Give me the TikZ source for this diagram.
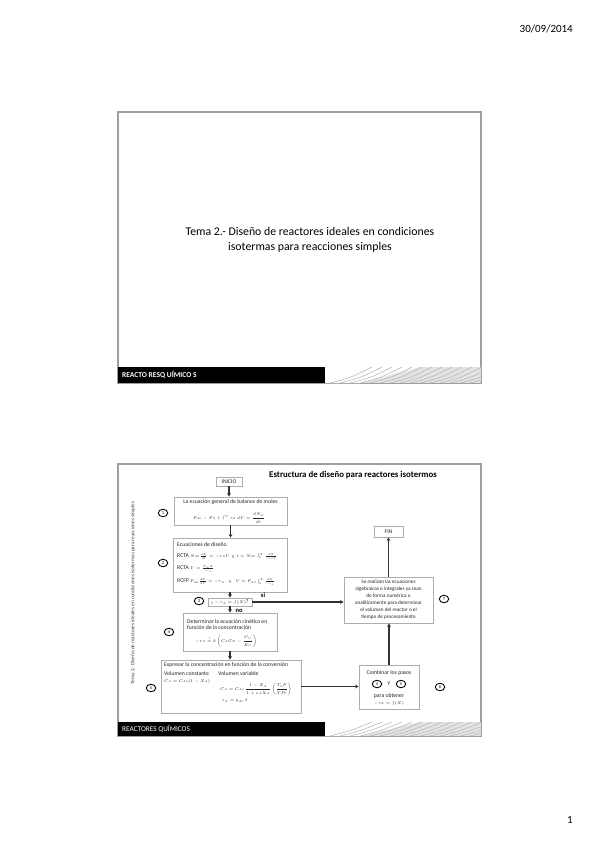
\RequirePackage{fix-cm}
\documentclass[tikz,border=0pt]{standalone}
\usepackage{fontspec}
\setmainfont{Carlito}
\usepackage{amsmath}
\usetikzlibrary{shapes.geometric,arrows.meta}
\newcommand{\mth}[1]{{\fontsize{4}{5}\selectfont$#1$}}
\tikzset{
  slideframe/.style={draw=gray!75, line width=1.3pt},
  fbox/.style={draw=gray!65, line width=0.8pt, fill=white, inner sep=1pt},
  txt/.style={font=\fontsize{5.7}{6}\selectfont, text=black!85, inner sep=0pt},
  arr/.style={draw=black!80, line width=1.1pt, -{Stealth[length=3.5pt,width=3.8pt]}},
  num/.style={ellipse, draw=black, line width=0.9pt, minimum width=9.5pt, minimum height=7.5pt, inner sep=0pt, font=\fontsize{4.5}{4.5}\selectfont},
  lbl/.style={font=\fontsize{6.5}{6.5}\selectfont\bfseries, inner sep=0pt},
}
\begin{document}
\begin{tikzpicture}[x=1pt,y=-1pt]
\useasboundingbox (0,0) rectangle (599,848);
% header / footer
\node[font=\fontsize{11}{13}\selectfont, anchor=east, inner sep=0pt] (date) at (573,29) {30/09/2014};
\node[font=\fontsize{11}{13}\selectfont, inner sep=0pt] (pg) at (570,820) {1};

% ---------- slide 1 ----------
\draw[slideframe] (118,112) rectangle (481,383);
\fill[black] (118,367) rectangle (325,383);
\begin{scope}
  \clip (325,367) rectangle (481,383);
  \fill[gray!22] (325,367) rectangle (481,383);
  \fill[white] (325,383) -- (360,383) -- (420,367) -- (325,367) -- cycle;
  \foreach \i in {0,...,16} \draw[gray!60, line width=0.5pt] ({330+\i*10},383) .. controls ({350+\i*10},378) .. ({372+\i*10},367);
\end{scope}
\node[font=\fontsize{7.5}{8}\selectfont\bfseries, text=white, anchor=west, inner sep=0pt] (band1) at (122,375) {REACTO RESQ UÍMICO S};
\node[font=\fontsize{11.8}{15}\selectfont, align=center, inner sep=0pt] (t1) at (310,239.5) {Tema 2.- Diseño de reactores ideales en condiciones\\isotermas para reacciones simples};

% ---------- slide 2 ----------
\draw[slideframe] (118,464) rectangle (481,736);
\fill[black] (118,722) rectangle (325,736);
\begin{scope}
  \clip (325,722) rectangle (481,736);
  \fill[gray!22] (325,722) rectangle (481,736);
  \fill[white] (325,736) -- (360,736) -- (420,722) -- (325,722) -- cycle;
  \foreach \i in {0,...,16} \draw[gray!60, line width=0.5pt] ({330+\i*10},736) .. controls ({350+\i*10},731) .. ({372+\i*10},722);
\end{scope}
\node[font=\fontsize{7.3}{8}\selectfont, text=white, anchor=west, inner sep=0pt] (band2) at (122,729) {REACTORES QUÍMICOS};

\node[font=\fontsize{8.8}{9}\selectfont\bfseries, inner sep=0pt] (title) at (353,475) {Estructura de diseño para reactores isotermos};
\node[font=\fontsize{5.2}{6}\selectfont, text=black!75, rotate=90, inner sep=0pt] (side) at (133,593) {Tema 2.- Diseño de reactores ideales en condiciones isotermas para reacciones simples};

% INICIO
\node[fbox, txt, minimum width=26pt, minimum height=9pt, inner sep=0pt] (inicio) at (229,481.5) {INICIO};
% box 1
\node[fbox, minimum width=113pt, minimum height=28pt] (b1) at (230.5,511) {};
\node[txt] (b1t) at (230.5,502) {La ecuación general de balance de moles};
\node[txt] (b1e) at (229,518) {\mth{F_{A0}-F_A+\int^{V} r_A\,dV=\dfrac{dN_A}{dt}}};
% box 2
\node[fbox, minimum width=114pt, minimum height=54pt] (b2) at (230,565) {};
\node[txt, anchor=west] (b2t) at (177,545) {Ecuaciones de diseño};
\node[txt, anchor=west] (b2a) at (177,556.5) {RCTA \mth{N_{A0}\frac{dX}{dt}=-r_AV\ \ y\ \ t=N_{A0}\int_0^X\frac{dX}{-r_AV}}};
\node[txt, anchor=west] (b2b) at (177,569) {RCTA \mth{V=\frac{F_{A0}X}{-r_A}}};
\node[txt, anchor=west] (b2c) at (177,582) {RCFP \mth{F_{A0}\frac{dX}{dV}=-r_A\quad y\quad V=F_{A0}\int_0^X\frac{dX}{-r_A}}};
% box 3
\node[fbox, txt, minimum width=44pt, minimum height=8pt, inner sep=0pt] (b3) at (230,602) {\mth{\text{¿}-r_A=f(X)}?};
% box 4
\node[fbox, minimum width=94pt, minimum height=38pt] (b4) at (230,632) {};
\node[txt, anchor=west] (b4a) at (187,621.5) {Determinar la ecuación cinética en};
\node[txt, anchor=west] (b4b) at (187,628) {función de la concentración};
\node[txt] (b4e) at (226,641) {\mth{-r_A\overset{?}{=}k\left(C_AC_B-\dfrac{C_C}{K_C}\right)}};
% box 5
\node[fbox, minimum width=140pt, minimum height=53pt] (b5) at (231,686.5) {};
\node[txt, anchor=west] (b5t) at (164,665) {Expresar la concentración en función de la conversión};
\node[txt, anchor=west] (b5a) at (164,674) {Volumen constante};
\node[txt, anchor=west] (b5b) at (164,681) {\mth{C_A=C_{A0}(1-X_A)}};
\node[txt, anchor=west] (b5c) at (218,674) {Volumen variable};
\node[txt, anchor=west] (b5d) at (220,689) {\mth{C_A=C_{A0}\,\dfrac{1-X_A}{1+\varepsilon_AX_A}\left(\dfrac{T_0P}{TP_0}\right)}};
\node[txt, anchor=west] (b5e) at (222,701) {\mth{\varepsilon_A=y_{A0}\,\delta}};
% box 6
\node[fbox, minimum width=60pt, minimum height=44pt] (b6) at (389,687) {};
\node[txt] (b6t) at (389,673) {Combinar los pasos};
\node[num] (c6a) at (377,684) {4};
\node[txt] (b6y) at (389,684) {y};
\node[num] (c6b) at (401,684) {5};
\node[txt] (b6p) at (389,696) {para obtener};
\node[txt] (b6e) at (389,703) {\mth{-r_A=f(X)}};
% box 7
\node[fbox, minimum width=89pt, minimum height=46pt, font=\fontsize{5.2}{7}\selectfont, text=black!85, align=center] (b7) at (388.5,600) {Se realizan las ecuaciones\\algebraicas o integrales ya sean\\de forma numérica o\\analíticamente para determinar\\el volumen del reactor o el\\tiempo de procesamiento};
% FIN
\node[fbox, txt, minimum width=29pt, minimum height=11pt, inner sep=0pt] (fin) at (388.5,531.5) {FIN};

% numbers
\node[num] (n1) at (163,513) {1};
\node[num] (n2) at (163,563) {2};
\node[num] (n3) at (199,601) {3};
\node[num] (n4) at (169,632) {4};
\node[num] (n5) at (151,688) {5};
\node[num] (n6) at (440,687) {6};
\node[num] (n7) at (444,599) {7};

% labels
\node[lbl] (si) at (263,595) {si};
\node[lbl] (no) at (239,611) {no};

% arrows
\draw[arr] (inicio.south) -- (inicio.south |- b1.north);
\draw[arr] (b1.south) -- (b1.south |- b2.north);
\draw[arr] (b2.south) -- (b2.south |- b3.north);
\draw[arr] (b3.south) -- (b3.south |- b4.north);
\draw[arr] (b4.south) -- (b4.south |- b5.north);
\draw[arr] (b3.east) -- (b3.east -| b7.west);
\draw[arr] (b5.east) -- (b5.east -| b6.west);
\draw[arr] (b6.north) -- (b6.north |- b7.south);
\draw[arr] (b7.north) -- (b7.north |- fin.south);
\end{tikzpicture}
\end{document}
